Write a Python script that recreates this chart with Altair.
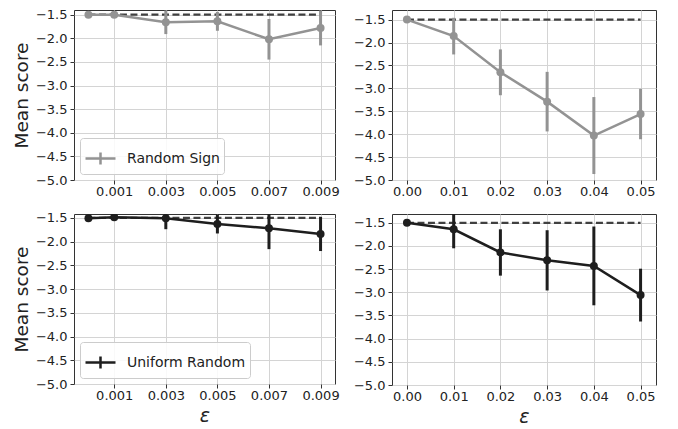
import altair as alt
import pandas as pd

eps_small = [0.0, 0.001, 0.003, 0.005, 0.007, 0.009]
eps_large = [0.0, 0.01, 0.02, 0.03, 0.04, 0.05]

rs_small_mean = [-1.50, -1.50, -1.66, -1.64, -2.02, -1.78]
rs_small_err = [0.0, 0.0, 0.25, 0.20, 0.43, 0.37]
rs_large_mean = [-1.50, -1.86, -2.65, -3.29, -4.03, -3.56]
rs_large_err = [0.0, 0.40, 0.50, 0.65, 0.84, 0.55]

ur_small_mean = [-1.51, -1.49, -1.51, -1.63, -1.72, -1.84]
ur_small_err = [0.0, 0.0, 0.23, 0.20, 0.44, 0.36]
ur_large_mean = [-1.50, -1.64, -2.14, -2.31, -2.43, -3.06]
ur_large_err = [0.0, 0.41, 0.50, 0.65, 0.85, 0.57]

baseline = -1.5
small_ticks = [0.001, 0.003, 0.005, 0.007, 0.009]
large_ticks = [0.00, 0.01, 0.02, 0.03, 0.04, 0.05]
y_ticks = [-5.0, -4.5, -4.0, -3.5, -3.0, -2.5, -2.0, -1.5]

GRAY = "#939393"
BLACK = "#1e1e1e"
FONT = "DejaVu Sans"


def panel(eps, mean, err, color, name, ticks, fmt, xdom, ydom, w, h, left, bottom):
    df = pd.DataFrame({
        "eps": eps,
        "mean": mean,
        "lo": [m - e for m, e in zip(mean, err)],
        "hi": [m + e for m, e in zip(mean, err)],
        "series": [name] * len(eps),
    })
    base_df = pd.DataFrame({"eps": [eps[0], eps[-1]], "mean": [baseline, baseline]})
    xaxis = alt.Axis(values=ticks, format=fmt, title="ε" if bottom else None,
                     titleFontStyle="italic", titleFontSize=19, titleFontWeight="normal",
                     titlePadding=4, labelOverlap=False, labelFlush=False, labelPadding=1)
    yaxis = alt.Axis(values=y_ticks, format=".1f", title="Mean score" if left else None,
                     titleFontSize=18.5, titleFontWeight="normal", titlePadding=4,
                     labelOverlap=False, labelFlush=False, labelPadding=3)
    xs = alt.Scale(domain=xdom, nice=False, zero=False)
    ys = alt.Scale(domain=ydom, nice=False, zero=False)
    x = alt.X("eps:Q", scale=xs, axis=xaxis)
    y = alt.Y("mean:Q", scale=ys, axis=yaxis)
    dashed = alt.Chart(base_df).mark_line(
        color="#404040", strokeDash=[7, 3.5], strokeWidth=2.2, clip=True
    ).encode(x=x, y=y)
    if left:
        col = alt.Color(
            "series:N",
            scale=alt.Scale(domain=[name], range=[color]),
            legend=alt.Legend(
                title=None, orient="bottom-left", offset=6, padding=4,
                fillColor="rgba(255,255,255,0.85)", strokeColor="#cccccc",
                cornerRadius=3, symbolType="M-1,0H1M0,-0.4V0.4", symbolSize=900,
                symbolStrokeWidth=2.5, symbolFillColor="transparent",
                labelFont=FONT, labelFontSize=14, labelColor="#222222", labelOffset=10,
            ),
        )
    else:
        col = alt.value(color)
    line = alt.Chart(df).mark_line(strokeWidth=2.5, clip=True).encode(x=x, y=y, color=col)
    bars = alt.Chart(df).mark_rule(strokeWidth=3, color=color, clip=True).encode(
        x=x, y=alt.Y("lo:Q", scale=ys, axis=yaxis), y2="hi:Q"
    )
    pts = alt.Chart(df).mark_circle(size=64, opacity=1, color=color, clip=True).encode(x=x, y=y)
    return alt.layer(dashed, line, bars, pts).properties(width=w, height=h)


tl = panel(eps_small, rs_small_mean, rs_small_err, GRAY, "Random Sign", small_ticks, ".3f",
           [-0.00056, 0.00956], [-5.0, -1.40], 261, 170, True, False)
tr = panel(eps_large, rs_large_mean, rs_large_err, GRAY, "Random Sign", large_ticks, ".2f",
           [-0.0032, 0.0533], [-5.0, -1.29], 264, 170, False, False)
bl = panel(eps_small, ur_small_mean, ur_small_err, BLACK, "Uniform Random", small_ticks, ".3f",
           [-0.00056, 0.00956], [-5.0, -1.42], 261, 170, True, True)
br = panel(eps_large, ur_large_mean, ur_large_err, BLACK, "Uniform Random", large_ticks, ".2f",
           [-0.0032, 0.0533], [-5.0, -1.31], 264, 171, False, True)

row1 = alt.hconcat(tl, tr, spacing=12).resolve_scale(color="independent", x="independent", y="independent")
row2 = alt.hconcat(bl, br, spacing=12).resolve_scale(color="independent", x="independent", y="independent")

chart = alt.vconcat(row1, row2, spacing=12).resolve_scale(
    color="independent", x="independent", y="independent"
).properties(
    padding={"left": 3, "top": 0, "right": 0, "bottom": 0},
    background="white",
).configure_view(
    stroke="#333333", strokeWidth=1
).configure_axis(
    domain=False,
    grid=True, gridColor="#d4d4d4", gridWidth=1,
    ticks=True, tickColor="#333333", tickSize=4, tickWidth=1,
    labelFont=FONT, labelFontSize=13, labelColor="#222222",
    titleFont=FONT, titleColor="#222222",
)

chart.save("out.html", embed_options={"renderer": "svg", "actions": False})
